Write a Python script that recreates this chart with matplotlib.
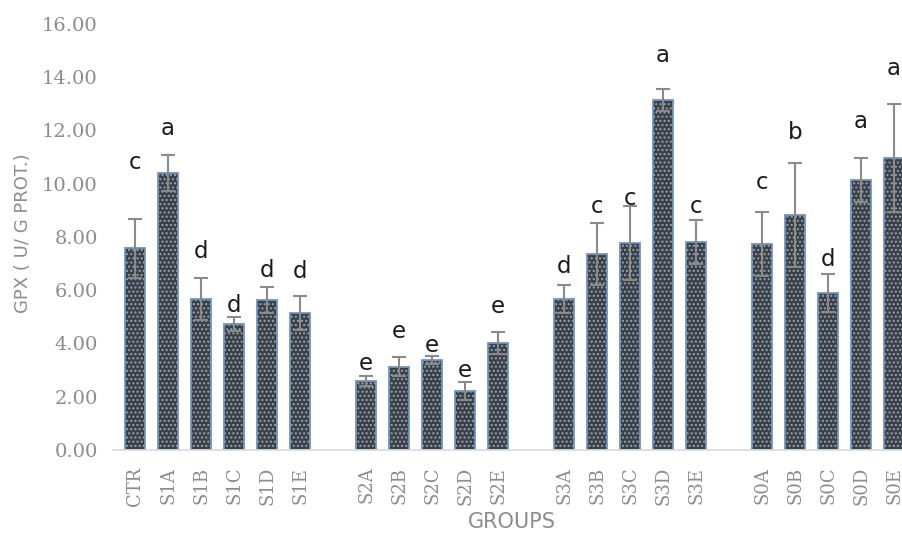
import numpy as np
import matplotlib.pyplot as plt

# GPX activity per treatment group, mean and SD, with significance letters
groups = [
    ["CTR", "S1A", "S1B", "S1C", "S1D", "S1E"],
    ["S2A", "S2B", "S2C", "S2D", "S2E"],
    ["S3A", "S3B", "S3C", "S3D", "S3E"],
    ["S0A", "S0B", "S0C", "S0D", "S0E"],
]
gpx_mean = [7.57, 10.39, 5.67, 4.73, 5.63, 5.14,
            2.59, 3.12, 3.38, 2.21, 4.01,
            5.66, 7.35, 7.77, 13.13, 7.80,
            7.73, 8.82, 5.89, 10.13, 10.96]
gpx_sd = [1.10, 0.68, 0.78, 0.26, 0.49, 0.64,
          0.19, 0.36, 0.15, 0.34, 0.42,
          0.53, 1.17, 1.38, 0.42, 0.83,
          1.20, 1.95, 0.71, 0.83, 2.02]
letters = ["c", "a", "d", "d", "d", "d",
           "e", "e", "e", "e", "e",
           "d", "c", "c", "a", "c",
           "c", "b", "d", "a", "a"]

# how far above the error cap each letter sits (data units)
letter_pad = [2.1, 1.0, 1.0, 0.45, 0.63, 0.9,
              0.48, 0.95, 0.41, 0.45, 0.94,
              0.68, 0.6, 0.3, 1.27, 0.49,
              1.09, 1.16, 0.53, 1.35, 1.35]

# one empty slot between groups
names, xpos = [], []
slot = 0
for g in groups:
    for n in g:
        names.append(n)
        xpos.append(slot)
        slot += 1
    slot += 1
xpos = np.array(xpos)
means = np.array(gpx_mean)
sds = np.array(gpx_sd)

grey = "#8c8c8c"
fig = plt.figure(figsize=(9.03, 5.33), dpi=100)
ax = fig.add_axes([0.1251, 0.1557, 0.8749, 0.8000])

# dotted dark fill, then a blue outline on top
ax.bar(xpos, means, width=0.6, color="#394047", edgecolor="#98a2ad",
       hatch="....", linewidth=0)
ax.bar(xpos, means, width=0.6, fill=False, edgecolor="#6f95c0", linewidth=1.3)
ax.errorbar(xpos, means, yerr=sds, fmt="none", ecolor="#8a8a8a",
            elinewidth=1.5, capsize=5, capthick=1.5)

for x, m, s, lab, p in zip(xpos, means, sds, letters, letter_pad):
    ax.text(x, m + s + p, lab, ha="center", va="center", fontsize=16.5,
            color="#1a1a1a", family="DejaVu Sans")

ax.set_xlim(-0.67, 23.27)
ax.set_ylim(0, 16)
ax.set_yticks(np.arange(0, 17, 2))
ax.set_yticklabels([f"{v:.2f}" for v in np.arange(0, 17, 2)],
                   family="DejaVu Serif", fontsize=14, color=grey)
ax.set_xticks(xpos)
ax.set_xticklabels(names, rotation=90, family="DejaVu Serif", fontsize=13,
                   color=grey)
ax.tick_params(axis="both", length=0)
ax.tick_params(axis="y", pad=11)
ax.tick_params(axis="x", pad=12)

for side in ["top", "right", "left"]:
    ax.spines[side].set_visible(False)
ax.spines["bottom"].set_color("#d9d9d9")
ax.spines["bottom"].set_linewidth(1.2)

fig.text(0.567, 0.002, "GROUPS", ha="center", va="bottom", fontsize=15,
         color=grey, family=["Liberation Sans Narrow", "DejaVu Sans"])
fig.text(0.025, 1 - 233 / 533, "GPX ( U/ G PROT.)", rotation=90,
         ha="center", va="center", fontsize=13, color=grey,
         family=["Liberation Sans Narrow", "DejaVu Sans"])

fig.savefig("out.png", dpi=100)
